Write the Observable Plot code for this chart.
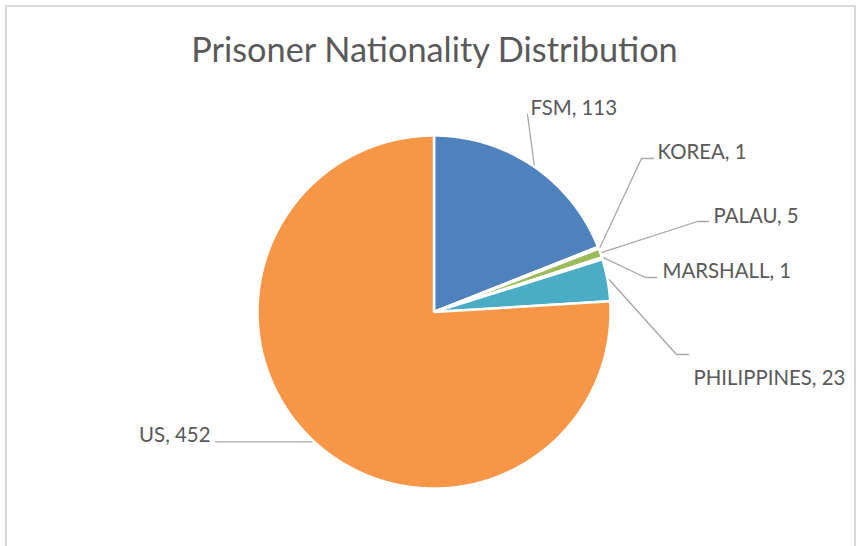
<!DOCTYPE html>
<html>
<head>
<meta charset="utf-8">
<script src="https://cdn.jsdelivr.net/npm/d3@7"></script>
<script src="https://cdn.jsdelivr.net/npm/@observablehq/plot@0.6"></script>
<style>
  body { margin: 0; background: #ffffff; }
  #wrap { position: relative; width: 864px; height: 546px; overflow: hidden; background: #fff; }
  #border { position: absolute; left: 5px; top: 5px; width: 851px; height: 620px; border: 2px solid #D9D9D9; box-sizing: border-box; pointer-events: none; }
  #chart { position: absolute; left: 0; top: 0; }
</style>
</head>
<body>
<div id="wrap"><div id="chart"></div><div id="border"></div></div>
<script>
// ---- data ----
const title = "Prisoner Nationality Distribution";
const categories = ["FSM", "KOREA", "PALAU", "MARSHALL", "PHILIPPINES", "US"];
const values = [113, 1, 5, 1, 23, 452];
const colors = ["#4F81BD", "#C0504D", "#9BBB59", "#8064A2", "#4BACC6", "#F79646"];

// ---- layout (chart units = pixels, origin at pie centre, y up) ----
const radius = 176.5;
const labelElbow = [[93.5, 197.5], [207.5, 153.5], [263.5, 90.5], [211.5, 34.5], [242.5, -42.5], [null, null]];
const labelEnd   = [[93.5, 197.5], [219.5, 153.5], [274.5, 90.5], [222.5, 34.5], [254.5, -42.5], [-218.5, null]];
const labelText  = [[96.5, 197.5], [223.5, 153.5], [279.5, 89.5], [228.5, 34.5], [259.5, -72.5], [-223.5, -129.5]];
const labelAnchor = ["start", "start", "start", "start", "start", "end"];

const rows = categories.map((c, i) => ({name: c, value: values[i], color: colors[i]}));
const arcs = d3.pie().sort(null).value(d => d.value).startAngle(0).endAngle(2 * Math.PI)(rows);

// slice outlines
const slicePts = [];
arcs.forEach(a => {
  const n = Math.max(2, Math.ceil((a.endAngle - a.startAngle) / (Math.PI / 360)));
  slicePts.push({name: a.data.name, color: a.data.color, x: 0, y: 0});
  for (let k = 0; k <= n; k++) {
    const t = a.startAngle + (a.endAngle - a.startAngle) * k / n;
    slicePts.push({name: a.data.name, color: a.data.color, x: radius * Math.sin(t), y: radius * Math.cos(t)});
  }
});

// leader lines
const leaderPts = [];
const labels = [];
arcs.forEach((a, i) => {
  const m = (a.startAngle + a.endAngle) / 2;
  const r0 = radius * 1.01;
  const sx = r0 * Math.sin(m), sy = r0 * Math.cos(m);
  leaderPts.push({name: a.data.name, x: sx, y: sy});
  const [ex0, ey0] = labelElbow[i];
  if (ex0 !== null) leaderPts.push({name: a.data.name, x: ex0, y: ey0});
  const [ex, ey] = labelEnd[i];
  leaderPts.push({name: a.data.name, x: ex, y: ey === null ? sy : ey});
  labels.push({x: labelText[i][0], y: labelText[i][1], text: `${a.data.name}, ${a.data.value}`, anchor: labelAnchor[i]});
});

const font = "Lato, 'Open Sans', sans-serif";
const textColor = "#595959";

const chart = Plot.plot({
  width: 864,
  height: 546,
  margin: 0,
  x: {domain: [-433.5, 430.5], axis: null},
  y: {domain: [-234.5, 311.5], axis: null},
  color: {type: "identity"},
  style: {background: "transparent"},
  marks: [
    Plot.line(slicePts, {x: "x", y: "y", z: "name", fill: "color", stroke: "#ffffff", strokeWidth: 2.5, curve: "linear-closed", strokeLinejoin: "miter"}),
    Plot.line(leaderPts, {x: "x", y: "y", z: "name", stroke: "#A6A6A6", strokeWidth: 1.3}),
    Plot.text(labels.filter(d => d.anchor === "start"), {x: "x", y: "y", text: "text", textAnchor: "start", lineAnchor: "bottom", fontSize: 20.4, fontFamily: font, fill: textColor}),
    Plot.text(labels.filter(d => d.anchor === "end"), {x: "x", y: "y", text: "text", textAnchor: "end", lineAnchor: "bottom", fontSize: 20.4, fontFamily: font, fill: textColor}),
    Plot.text([title], {frameAnchor: "top", text: d => d, lineAnchor: "bottom", dy: 61, dx: 2, fontSize: 34.3, fontFamily: font, fill: textColor})
  ]
});
document.getElementById("chart").appendChild(chart);
</script>
</body>
</html>
